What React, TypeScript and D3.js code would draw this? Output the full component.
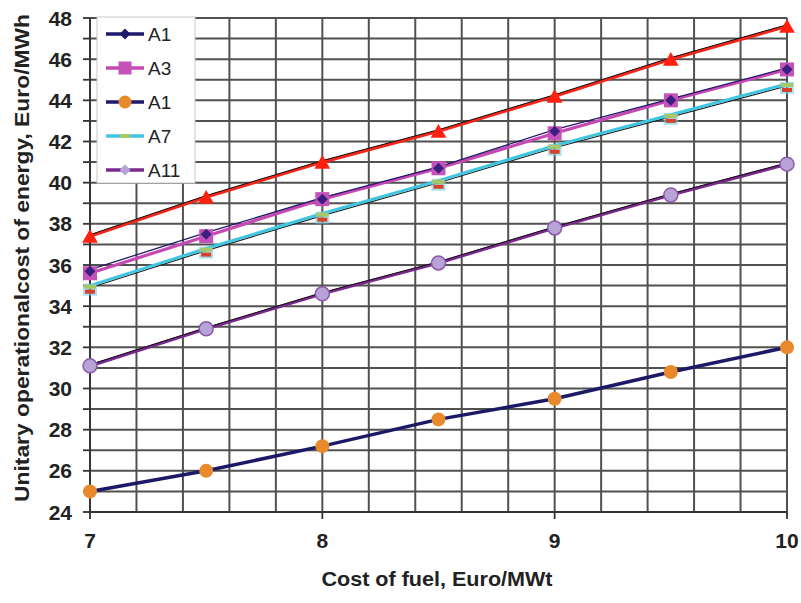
import React from "react";
import * as d3 from "d3";

// Fuel cost (Euro/MWt) on the horizontal axis
const fuelCost = [7, 7.5, 8, 8.5, 9, 9.5, 10];

// Unitary operational cost of energy (Euro/MWh) per configuration
const costRed = [37.4, 39.3, 41.0, 42.5, 44.2, 46.0, 47.6];
const costA1 = [35.7, 37.5, 39.2, 40.7, 42.5, 44.0, 45.5];
const costA3 = [35.6, 37.4, 39.2, 40.7, 42.4, 44.0, 45.5];
const costA7 = [35.0, 36.8, 38.5, 40.1, 41.8, 43.3, 44.8];
const costA7b = [34.8, 36.6, 38.3, 39.9, 41.6, 43.1, 44.6];
const costA11 = [31.1, 32.9, 34.6, 36.1, 37.8, 39.4, 40.9];
const costA1b = [25.0, 26.0, 27.2, 28.5, 29.5, 30.8, 32.0];

const xTicks = [7, 8, 9, 10];
const yTicks = [24, 26, 28, 30, 32, 34, 36, 38, 40, 42, 44, 46, 48];
const legendNames = ["A1", "A3", "A1", "A7", "A11"];

const W = 801;
const H = 603;
const left = 90;
const right = 787;
const top = 18;
const bottom = 512;

const x = d3.scaleLinear().domain([7, 10]).range([left, right]);
const y = d3.scaleLinear().domain([24, 48]).range([bottom, top]);

const FONT = "'Liberation Sans', Arial, sans-serif";

type Marker = "triangle" | "square" | "diamond" | "circle" | "dash" | "none";

function MarkerShape({ kind, cx, cy, fill, stroke, size }: { kind: Marker; cx: number; cy: number; fill: string; stroke?: string; size: number }) {
  if (kind === "triangle") {
    const s = d3.symbol(d3.symbolTriangle, size * size * 0.55)();
    return <path d={s as string} transform={`translate(${cx},${cy})`} fill={fill} />;
  }
  if (kind === "square") {
    return <rect x={cx - size / 2} y={cy - size / 2} width={size} height={size} fill={fill} />;
  }
  if (kind === "diamond") {
    const h = size / 2;
    return <path d={`M${cx},${cy - h}L${cx + h},${cy}L${cx},${cy + h}L${cx - h},${cy}Z`} fill={fill} stroke={stroke} strokeWidth={stroke ? 1.5 : 0} />;
  }
  if (kind === "circle") {
    return <circle cx={cx} cy={cy} r={size / 2} fill={fill} stroke={stroke} strokeWidth={stroke ? 1.5 : 0} />;
  }
  if (kind === "dash") {
    return <rect x={cx - size / 2} y={cy - 2} width={size} height={4} fill={fill} />;
  }
  return null;
}

export default function App() {
  const line = d3
    .line<number>()
    .x((_, i) => x(fuelCost[i]))
    .y((v) => y(v));

  const xGrid = d3.range(7, 10.0001, 0.2);
  const yGrid = d3.range(24, 48.0001, 1);

  const pts = (vals: number[]) => vals.map((v, i) => ({ cx: x(fuelCost[i]), cy: y(v) }));

  return (
    <svg width={W} height={H} style={{ display: "block", position: "absolute", left: 0, top: 0, background: "#fff" }}>
      <rect x={0} y={0} width={W} height={H} fill="#fff" />

      {/* grid */}
      <g stroke="#333" strokeWidth={2} opacity={0.85}>
        {xGrid.map((g, i) => (
          <line key={"vx" + i} x1={x(g)} x2={x(g)} y1={top} y2={bottom} />
        ))}
        {yGrid.map((g, i) => (
          <line key={"hy" + i} x1={left} x2={right} y1={y(g)} y2={y(g)} />
        ))}
      </g>

      {/* axes */}
      <g stroke="#333" strokeWidth={1.8}>
        <line x1={left} x2={left} y1={top} y2={bottom} />
        <line x1={left} x2={right} y1={bottom} y2={bottom} />
        {yGrid.map((g, i) => (
          <line key={"yt" + i} x1={left - 7} x2={left} y1={y(g)} y2={y(g)} />
        ))}
        {xTicks.map((t) => (
          <line key={"xt" + t} x1={x(t)} x2={x(t)} y1={bottom} y2={bottom + 7} />
        ))}
      </g>

      {/* tick labels */}
      <g fontFamily={FONT} fontWeight="bold" fontSize={21} fill="#222">
        {yTicks.map((t) => (
          <text key={"yl" + t} x={72} y={y(t)} dy="0.36em" textAnchor="end">
            {t}
          </text>
        ))}
        {xTicks.map((t) => (
          <text key={"xl" + t} x={x(t)} y={548} textAnchor="middle">
            {t}
          </text>
        ))}
      </g>

      {/* axis titles */}
      <text
        x={437}
        y={586}
        textAnchor="middle"
        fontFamily={FONT}
        fontWeight="bold"
        fontSize={20}
        fill="#222"
        textLength={231}
        lengthAdjust="spacingAndGlyphs"
      >
        Cost of fuel, Euro/MWt
      </text>
      <text
        transform={`translate(29,258) rotate(-90)`}
        textAnchor="middle"
        fontFamily={FONT}
        fontWeight="bold"
        fontSize={21}
        fill="#222"
        textLength={488}
        lengthAdjust="spacingAndGlyphs"
      >
        Unitary operationalcost of energy, Euro/MWh
      </text>

      {/* A1 (orange circles) */}
      <path d={line(costA1b) as string} fill="none" stroke="#1c1a66" strokeWidth={3.5} />
      {pts(costA1b).map((p, i) => (
        <MarkerShape key={"o" + i} kind="circle" cx={p.cx} cy={p.cy} fill="#e8892c" size={14} />
      ))}

      {/* A11 */}
      <path d={line(costA11) as string} fill="none" stroke="#7a2a8c" strokeWidth={3.2} />
      <path d={line(costA11) as string} fill="none" stroke="#111" strokeWidth={1} transform="translate(0,-1.2)" />
      {pts(costA11).map((p, i) => (
        <MarkerShape key={"p" + i} kind="circle" cx={p.cx} cy={p.cy} fill="#b7a3d6" stroke="#8a5aa8" size={14} />
      ))}

      {/* A7 */}
      <path d={line(costA7b) as string} fill="none" stroke="#222" strokeWidth={1.2} transform="translate(0,-2)" />
      <path d={line(costA7) as string} fill="none" stroke="#3fc6e0" strokeWidth={3} />
      {pts(costA7b).map((p, i) => (
        <g key={"c" + i}>
          <rect x={p.cx - 7} y={p.cy - 6} width={14} height={12} fill="#6fd0e8" opacity={0.6} />
          <MarkerShape kind="dash" cx={p.cx} cy={p.cy - 3} fill="#a8c868" size={12} />
          <MarkerShape kind="dash" cx={p.cx} cy={p.cy + 2} fill="#d8402a" size={10} />
        </g>
      ))}

      {/* A3 and A1 */}
      <path d={line(costA3) as string} fill="none" stroke="#c548b4" strokeWidth={3.2} />
      <path d={line(costA1) as string} fill="none" stroke="#231a66" strokeWidth={1.3} transform="translate(0,-1.5)" />
      {pts(costA3).map((p, i) => (
        <MarkerShape key={"s" + i} kind="square" cx={p.cx} cy={p.cy} fill="#c552b8" size={14} />
      ))}
      {pts(costA1).map((p, i) => (
        <MarkerShape key={"d" + i} kind="diamond" cx={p.cx} cy={p.cy} fill="#3a1f80" size={11} />
      ))}

      {/* red series */}
      <path d={line(costRed) as string} fill="none" stroke="#f2261a" strokeWidth={3.2} />
      <path d={line(costRed) as string} fill="none" stroke="#111" strokeWidth={1} transform="translate(0,-1.5)" />
      {pts(costRed).map((p, i) => (
        <MarkerShape key={"r" + i} kind="triangle" cx={p.cx} cy={p.cy + 2} fill="#ff2010" size={14} />
      ))}

      {/* legend */}
      <g>
        <rect x={97} y={17} width={98} height={166} fill="#fff" stroke="#c8c8c8" strokeWidth={1} />
        {legendNames.map((name, i) => {
          const ly = 34 + i * 34;
          const stroke = ["#1e1a6c", "#c548b4", "#1e1a6c", "#3fc6e0", "#7a2a8c"][i];
          const kinds: Marker[] = ["diamond", "square", "circle", "dash", "diamond"];
          const fills = ["#1e1a6c", "#c552b8", "#e8892c", "#a8c868", "#b7a3d6"];
          const sizes = [11, 13, 13, 10, 11];
          return (
            <g key={"lg" + i}>
              <line x1={106} x2={144} y1={ly} y2={ly} stroke={stroke} strokeWidth={3.5} />
              <MarkerShape kind={kinds[i]} cx={125} cy={ly} fill={fills[i]} size={sizes[i]} />
              <text x={148} y={ly} dy="0.36em" fontFamily={FONT} fontSize={19} fill="#222">
                {name}
              </text>
            </g>
          );
        })}
      </g>
    </svg>
  );
}
